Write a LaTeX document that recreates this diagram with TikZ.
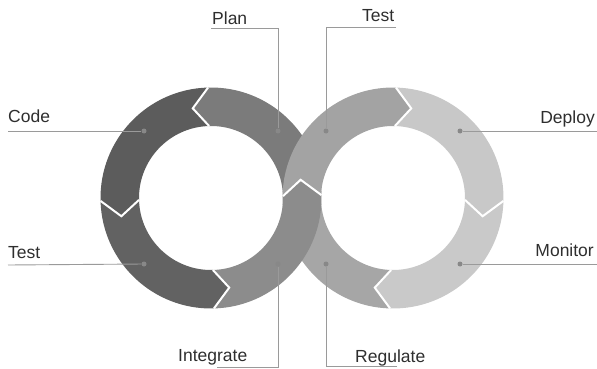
\documentclass[tikz,border=0pt]{standalone}
\usepackage{fontspec}
\setmainfont{Liberation Sans}
\usepackage{xcolor}
\usepackage{tikz}
\definecolor{leaderGray}{HTML}{9A9A9A}
\definecolor{dotGray}{HTML}{888888}
\definecolor{textGray}{HTML}{2E2E2E}
\newcommand{\outerR}{110.5}
\newcommand{\innerR}{72}
\newcommand{\midR}{91.5}
% one arrow piece of a ring: centre, from angle, to angle, tip offset, colour
\newcommand{\ringPart}[5]{
	\definecolor{tmpColor}{HTML}{#5}
	\fill[tmpColor, shift = {(#1)}] (#2:\outerR) arc[start angle = #2, end angle = #3, radius = \outerR]
		-- ({#3+(#4)}:\midR) -- (#3:\innerR) arc[start angle = #3, end angle = #2, radius = \innerR]
		-- ({#2+(#4)}:\midR) -- cycle;
}
% white chevron between two pieces
\newcommand{\ringGap}[3]{
	\draw[gap, shift = {(#1)}] (#2:\outerR) -- ({#2+(#3)}:\midR) -- (#2:\innerR);
}
\tikzset{
	gap/.style = {white, line width = 2pt},
	stageLbl/.style = {font = \fontsize{17.5}{20}\selectfont, text = textGray, inner sep = 0pt},
	dot/.style = {circle, fill = dotGray, inner sep = 0pt, minimum size = 5pt},
	leader/.style = {leaderGray, line width = 0.9pt}
}

\begin{document}
\begin{tikzpicture}[x = 1pt, y = 1pt]%

		\useasboundingbox (0, 0) rectangle (597, -369);

		\coordinate (CL) at (211, -198);
		\coordinate (CR) at (393, -198);

		% pieces that end up underneath
		\ringPart{CL}{1.5}{91.5}{10}{7B7B7B}
		\ringPart{CR}{-91.5}{-181.5}{-10}{A6A6A6}

		% left ring
		\ringPart{CL}{91.5}{181.5}{10}{5C5C5C}
		\ringPart{CL}{181.5}{271.5}{10}{626262}

		% right ring
		\ringPart{CR}{88.5}{-1.5}{-10}{C8C8C8}
		\ringPart{CR}{-1.5}{-91.5}{-10}{C9C9C9}

		% crossing pieces
		\ringPart{CL}{271.5}{361.5}{10}{8C8C8C}
		\ringPart{CR}{178.5}{88.5}{-10}{A3A3A3}

		% chevrons
		\ringGap{CL}{91.5}{10}
		\ringGap{CL}{181.5}{10}
		\ringGap{CL}{271.5}{10}
		\ringGap{CL}{361.5}{10}
		\ringGap{CR}{88.5}{-10}
		\ringGap{CR}{-1.5}{-10}
		\ringGap{CR}{-91.5}{-10}

		% dots
		\node[dot] (codeDot) at (144, -131) {};
		\node[dot] (planDot) at (278, -131) {};
		\node[dot] (testDotL) at (144, -264) {};
		\node[dot] (integrateDot) at (278, -264) {};
		\node[dot] (testDotR) at (326, -131) {};
		\node[dot] (deployDot) at (460, -131) {};
		\node[dot] (regulateDot) at (326, -264) {};
		\node[dot] (monitorDot) at (460, -264) {};

		% line ends
		\coordinate (codeEnd) at (8, -131);
		\coordinate (planEnd) at (211, -28);
		\coordinate (testEndL) at (8, -265);
		\coordinate (integrateEnd) at (217, -367);
		\coordinate (testEndR) at (396, -27);
		\coordinate (deployEnd) at (597, -131);
		\coordinate (regulateEnd) at (397, -366);
		\coordinate (monitorEnd) at (597, -264);

		\draw[leader] (codeEnd) -- (codeDot);
		\draw[leader] (planEnd) -| (planDot);
		\draw[leader] (testEndL) -- (testDotL);
		\draw[leader] (integrateEnd) -| (integrateDot);
		\draw[leader] (testEndR) -| (testDotR);
		\draw[leader] (deployEnd) -- (deployDot);
		\draw[leader] (regulateEnd) -| (regulateDot);
		\draw[leader] (monitorEnd) -- (monitorDot);

		% labels
		\node[stageLbl, anchor = base west] (codeLbl) at (8, -122) {Code};
		\node[stageLbl, anchor = base west] (planLbl) at (212, -25) {Plan};
		\node[stageLbl, anchor = base west] (testLblL) at (8, -258) {Test};
		\node[stageLbl, anchor = base west] (integrateLbl) at (178, -361) {Integrate};
		\node[stageLbl, anchor = base west] (testLblR) at (362, -22) {Test};
		\node[stageLbl, anchor = base east] (deployLbl) at (595, -123) {Deploy};
		\node[stageLbl, anchor = base west] (regulateLbl) at (355, -362) {Regulate};
		\node[stageLbl, anchor = base east] (monitorLbl) at (594, -256) {Monitor};

	\end{tikzpicture}
\end{document}
